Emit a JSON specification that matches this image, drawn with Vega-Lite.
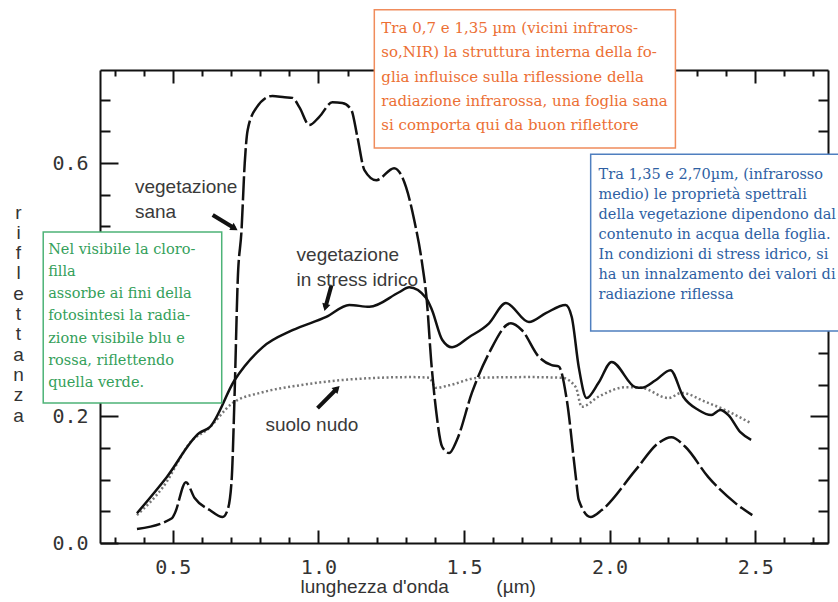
{
  "$schema": "https://vega.github.io/schema/vega-lite/v6.json",
  "width": 728,
  "height": 473,
  "autosize": {"type": "none"},
  "padding": {"left": 100, "top": 70, "right": 10, "bottom": 59},
  "background": "white",
  "config": {
    "view": {"stroke": null},
    "axis": {"grid": false, "domainColor": "#111", "tickColor": "#111", "domainWidth": 2, "tickWidth": 2}
  },
  "resolve": {"axis": {"x": "independent", "y": "independent"}},
  "datasets": {
    "curves": [
      {"s": "sana", "wl": 0.377, "r": 0.022}, {"s": "sana", "wl": 0.497, "r": 0.039}, {"s": "sana", "wl": 0.507, "r": 0.047},
      {"s": "sana", "wl": 0.545, "r": 0.096}, {"s": "sana", "wl": 0.575, "r": 0.071}, {"s": "sana", "wl": 0.627, "r": 0.052},
      {"s": "sana", "wl": 0.671, "r": 0.041}, {"s": "sana", "wl": 0.688, "r": 0.052}, {"s": "sana", "wl": 0.702, "r": 0.099},
      {"s": "sana", "wl": 0.712, "r": 0.231}, {"s": "sana", "wl": 0.723, "r": 0.415}, {"s": "sana", "wl": 0.736, "r": 0.494},
      {"s": "sana", "wl": 0.747, "r": 0.600}, {"s": "sana", "wl": 0.757, "r": 0.652}, {"s": "sana", "wl": 0.788, "r": 0.688},
      {"s": "sana", "wl": 0.842, "r": 0.706}, {"s": "sana", "wl": 0.884, "r": 0.704}, {"s": "sana", "wl": 0.911, "r": 0.703},
      {"s": "sana", "wl": 0.935, "r": 0.688}, {"s": "sana", "wl": 0.969, "r": 0.660}, {"s": "sana", "wl": 1.003, "r": 0.673},
      {"s": "sana", "wl": 1.048, "r": 0.696}, {"s": "sana", "wl": 1.082, "r": 0.695}, {"s": "sana", "wl": 1.113, "r": 0.684},
      {"s": "sana", "wl": 1.134, "r": 0.641}, {"s": "sana", "wl": 1.158, "r": 0.589}, {"s": "sana", "wl": 1.199, "r": 0.573},
      {"s": "sana", "wl": 1.260, "r": 0.592}, {"s": "sana", "wl": 1.301, "r": 0.562}, {"s": "sana", "wl": 1.329, "r": 0.510},
      {"s": "sana", "wl": 1.356, "r": 0.442}, {"s": "sana", "wl": 1.373, "r": 0.379}, {"s": "sana", "wl": 1.387, "r": 0.289},
      {"s": "sana", "wl": 1.404, "r": 0.210}, {"s": "sana", "wl": 1.425, "r": 0.152}, {"s": "sana", "wl": 1.449, "r": 0.142},
      {"s": "sana", "wl": 1.476, "r": 0.163}, {"s": "sana", "wl": 1.527, "r": 0.237}, {"s": "sana", "wl": 1.586, "r": 0.300},
      {"s": "sana", "wl": 1.661, "r": 0.347}, {"s": "sana", "wl": 1.699, "r": 0.336}, {"s": "sana", "wl": 1.757, "r": 0.294},
      {"s": "sana", "wl": 1.801, "r": 0.281}, {"s": "sana", "wl": 1.825, "r": 0.279}, {"s": "sana", "wl": 1.853, "r": 0.226},
      {"s": "sana", "wl": 1.884, "r": 0.104}, {"s": "sana", "wl": 1.894, "r": 0.068}, {"s": "sana", "wl": 1.935, "r": 0.041},
      {"s": "sana", "wl": 1.973, "r": 0.052}, {"s": "sana", "wl": 2.089, "r": 0.115}, {"s": "sana", "wl": 2.168, "r": 0.158},
      {"s": "sana", "wl": 2.212, "r": 0.167}, {"s": "sana", "wl": 2.260, "r": 0.152}, {"s": "sana", "wl": 2.339, "r": 0.104},
      {"s": "sana", "wl": 2.432, "r": 0.063}, {"s": "sana", "wl": 2.490, "r": 0.044},

      {"s": "stress", "wl": 0.377, "r": 0.047}, {"s": "stress", "wl": 0.479, "r": 0.104}, {"s": "stress", "wl": 0.592, "r": 0.174},
      {"s": "stress", "wl": 0.627, "r": 0.183}, {"s": "stress", "wl": 0.712, "r": 0.257}, {"s": "stress", "wl": 0.808, "r": 0.309},
      {"s": "stress", "wl": 0.911, "r": 0.336}, {"s": "stress", "wl": 1.027, "r": 0.357}, {"s": "stress", "wl": 1.106, "r": 0.376},
      {"s": "stress", "wl": 1.175, "r": 0.373}, {"s": "stress", "wl": 1.277, "r": 0.396}, {"s": "stress", "wl": 1.312, "r": 0.404},
      {"s": "stress", "wl": 1.370, "r": 0.387}, {"s": "stress", "wl": 1.390, "r": 0.368}, {"s": "stress", "wl": 1.425, "r": 0.321},
      {"s": "stress", "wl": 1.459, "r": 0.309}, {"s": "stress", "wl": 1.517, "r": 0.325}, {"s": "stress", "wl": 1.586, "r": 0.347},
      {"s": "stress", "wl": 1.644, "r": 0.379}, {"s": "stress", "wl": 1.723, "r": 0.349}, {"s": "stress", "wl": 1.781, "r": 0.363},
      {"s": "stress", "wl": 1.849, "r": 0.376}, {"s": "stress", "wl": 1.870, "r": 0.357}, {"s": "stress", "wl": 1.894, "r": 0.278},
      {"s": "stress", "wl": 1.921, "r": 0.229}, {"s": "stress", "wl": 1.962, "r": 0.253}, {"s": "stress", "wl": 2.007, "r": 0.286},
      {"s": "stress", "wl": 2.089, "r": 0.246}, {"s": "stress", "wl": 2.110, "r": 0.245}, {"s": "stress", "wl": 2.158, "r": 0.257},
      {"s": "stress", "wl": 2.209, "r": 0.273}, {"s": "stress", "wl": 2.253, "r": 0.231}, {"s": "stress", "wl": 2.305, "r": 0.210},
      {"s": "stress", "wl": 2.349, "r": 0.202}, {"s": "stress", "wl": 2.380, "r": 0.210}, {"s": "stress", "wl": 2.408, "r": 0.202},
      {"s": "stress", "wl": 2.449, "r": 0.175}, {"s": "stress", "wl": 2.486, "r": 0.163},

      {"s": "suolo", "wl": 0.377, "r": 0.044}, {"s": "suolo", "wl": 0.466, "r": 0.088}, {"s": "suolo", "wl": 0.568, "r": 0.163},
      {"s": "suolo", "wl": 0.616, "r": 0.178}, {"s": "suolo", "wl": 0.705, "r": 0.221}, {"s": "suolo", "wl": 0.808, "r": 0.238},
      {"s": "suolo", "wl": 0.935, "r": 0.249}, {"s": "suolo", "wl": 1.072, "r": 0.257}, {"s": "suolo", "wl": 1.322, "r": 0.262},
      {"s": "suolo", "wl": 1.380, "r": 0.261}, {"s": "suolo", "wl": 1.404, "r": 0.245}, {"s": "suolo", "wl": 1.449, "r": 0.249},
      {"s": "suolo", "wl": 1.551, "r": 0.261}, {"s": "suolo", "wl": 1.723, "r": 0.262}, {"s": "suolo", "wl": 1.836, "r": 0.261},
      {"s": "suolo", "wl": 1.884, "r": 0.246}, {"s": "suolo", "wl": 1.904, "r": 0.215}, {"s": "suolo", "wl": 1.962, "r": 0.231},
      {"s": "suolo", "wl": 2.055, "r": 0.246}, {"s": "suolo", "wl": 2.110, "r": 0.245}, {"s": "suolo", "wl": 2.202, "r": 0.229},
      {"s": "suolo", "wl": 2.247, "r": 0.237}, {"s": "suolo", "wl": 2.329, "r": 0.223}, {"s": "suolo", "wl": 2.397, "r": 0.210},
      {"s": "suolo", "wl": 2.486, "r": 0.189}
    ],
    "boxes": [
      {"b": "green", "x1": 0.055, "x2": 0.668, "y1": 0.491, "y2": 0.221},
      {"b": "orange", "x1": 1.192, "x2": 2.226, "y1": 0.842, "y2": 0.624},
      {"b": "blue", "x1": 1.935, "x2": 3.2, "y1": 0.614, "y2": 0.335}
    ],
    "notes": [
      {"b": "green", "x": 0.072, "y": 0.463, "text": "Nel visibile la cloro-\nfilla\nassorbe ai fini della\nfotosintesi la radia-\nzione visibile blu e\nrossa, riflettendo\nquella verde."},
      {"b": "orange", "x": 1.216, "y": 0.813, "text": "Tra 0,7 e 1,35 µm (vicini infraros-\nso,NIR) la struttura interna della fo-\nglia influisce sulla riflessione della\nradiazione infrarossa, una foglia sana\nsi comporta qui da buon riflettore"},
      {"b": "blue", "x": 1.962, "y": 0.581, "text": "Tra 1,35 e 2,70µm, (infrarosso\nmedio) le proprietà spettrali\ndella vegetazione dipendono dal\ncontenuto in acqua della foglia.\nIn condizioni di stress idrico, si\nha un innalzamento dei valori di\nradiazione riflessa"}
    ],
    "labels": [
      {"x": 0.370, "y": 0.562, "text": "vegetazione\nsana"},
      {"x": 0.925, "y": 0.455, "text": "vegetazione\nin stress idrico"},
      {"x": 0.818, "y": 0.186, "text": "suolo nudo"}
    ],
    "arrows": [
      {"x": 0.637, "y": 0.518, "x2": 0.712, "y2": 0.497, "angle": 122},
      {"x": 1.045, "y": 0.407, "x2": 1.024, "y2": 0.372, "angle": 195},
      {"x": 0.997, "y": 0.213, "x2": 1.064, "y2": 0.244, "angle": 45}
    ]
  },
  "layer": [
    {
      "data": {"name": "curves"},
      "mark": {"type": "point", "opacity": 0},
      "encoding": {
        "x": {"field": "wl", "type": "quantitative", "scale": {"domain": [0.25, 2.75], "nice": false, "zero": false},
          "axis": {"orient": "bottom", "values": [0.5, 1, 1.5, 2, 2.5], "format": ".1f", "tickSize": -13, "labelPadding": 27,
            "labelFont": "DejaVu Sans Mono", "labelFontSize": 20, "labelColor": "#333", "labelBaseline": "top",
            "title": "lunghezza d'onda\u00a0\u00a0\u00a0\u00a0\u00a0\u00a0\u00a0\u00a0\u00a0(µm)", "titleFont": "Liberation Sans", "titleFontSize": 19,
            "titleFontWeight": "normal", "titleColor": "#333", "titleAlign": "left", "titleX": 200, "titleY": 49, "titleBaseline": "alphabetic"}},
        "y": {"field": "r", "type": "quantitative", "scale": {"domain": [0, 0.747], "nice": false, "zero": false},
          "axis": {"orient": "left", "values": [0, 0.2, 0.4, 0.6], "format": ".1f", "tickSize": -18, "labelPadding": 30,
            "labelFont": "DejaVu Sans Mono", "labelFontSize": 20, "labelColor": "#333",
            "title": ["r", "i", "f", "l", "e", "t", "t", "a", "n", "z", "a"], "titleAngle": 0, "titleAlign": "center",
            "titleBaseline": "alphabetic", "titleX": -82, "titleY": 148, "titleLineHeight": 20.3,
            "titleFont": "Liberation Sans", "titleFontSize": 19, "titleFontWeight": "normal", "titleColor": "#333"}}
      }
    },
    {
      "data": {"name": "curves"},
      "mark": {"type": "point", "opacity": 0},
      "encoding": {
        "x": {"field": "wl", "type": "quantitative", "scale": {"domain": [0.25, 2.75], "nice": false, "zero": false},
          "axis": {"orient": "bottom", "values": [0.3, 0.4, 0.6, 0.7, 0.8, 0.9, 1.1, 1.2, 1.3, 1.4, 1.6, 1.7, 1.8, 1.9, 2.1, 2.2, 2.3, 2.4, 2.6, 2.7],
            "tickSize": -6, "labels": false, "domain": false, "title": null}},
        "y": {"field": "r", "type": "quantitative", "scale": {"domain": [0, 0.747], "nice": false, "zero": false},
          "axis": {"orient": "left", "values": [0.05, 0.1, 0.15, 0.25, 0.3, 0.35, 0.45, 0.5, 0.55, 0.65, 0.7],
            "tickSize": -10, "labels": false, "domain": false, "title": null}}
      }
    },
    {
      "data": {"name": "curves"},
      "mark": {"type": "point", "opacity": 0},
      "encoding": {
        "x": {"field": "wl", "type": "quantitative", "scale": {"domain": [0.25, 2.75], "nice": false, "zero": false},
          "axis": {"orient": "top", "values": [0.5, 1, 1.5, 2, 2.5], "tickSize": -13, "labels": false, "title": null}},
        "y": {"field": "r", "type": "quantitative", "scale": {"domain": [0, 0.747], "nice": false, "zero": false},
          "axis": {"orient": "right", "values": [0, 0.2, 0.4, 0.6], "tickSize": -18, "labels": false, "title": null}}
      }
    },
    {
      "data": {"name": "curves"},
      "mark": {"type": "point", "opacity": 0},
      "encoding": {
        "x": {"field": "wl", "type": "quantitative", "scale": {"domain": [0.25, 2.75], "nice": false, "zero": false},
          "axis": {"orient": "top", "values": [0.3, 0.4, 0.6, 0.7, 0.8, 0.9, 1.1, 1.2, 1.3, 1.4, 1.6, 1.7, 1.8, 1.9, 2.1, 2.2, 2.3, 2.4, 2.6, 2.7],
            "tickSize": -6, "labels": false, "domain": false, "title": null}},
        "y": {"field": "r", "type": "quantitative", "scale": {"domain": [0, 0.747], "nice": false, "zero": false},
          "axis": {"orient": "right", "values": [0.05, 0.1, 0.15, 0.25, 0.3, 0.35, 0.45, 0.5, 0.55, 0.65, 0.7],
            "tickSize": -10, "labels": false, "domain": false, "title": null}}
      }
    },
    {
      "data": {"name": "curves"},
      "transform": [{"filter": "datum.s === 'suolo'"}],
      "mark": {"type": "line", "interpolate": "monotone", "color": "#777", "strokeWidth": 2.5, "strokeDash": [2, 2.5]},
      "encoding": {
        "x": {"field": "wl", "type": "quantitative", "scale": {"domain": [0.25, 2.75], "nice": false, "zero": false}, "axis": null},
        "y": {"field": "r", "type": "quantitative", "scale": {"domain": [0, 0.747], "nice": false, "zero": false}, "axis": null}
      }
    },
    {
      "data": {"name": "curves"},
      "transform": [{"filter": "datum.s === 'stress'"}],
      "mark": {"type": "line", "interpolate": "monotone", "color": "#111", "strokeWidth": 2.5},
      "encoding": {
        "x": {"field": "wl", "type": "quantitative", "scale": {"domain": [0.25, 2.75], "nice": false, "zero": false}, "axis": null},
        "y": {"field": "r", "type": "quantitative", "scale": {"domain": [0, 0.747], "nice": false, "zero": false}, "axis": null}
      }
    },
    {
      "data": {"name": "curves"},
      "transform": [{"filter": "datum.s === 'sana'"}],
      "mark": {"type": "line", "interpolate": "monotone", "color": "#111", "strokeWidth": 2.5, "strokeDash": [24, 4]},
      "encoding": {
        "x": {"field": "wl", "type": "quantitative", "scale": {"domain": [0.25, 2.75], "nice": false, "zero": false}, "axis": null},
        "y": {"field": "r", "type": "quantitative", "scale": {"domain": [0, 0.747], "nice": false, "zero": false}, "axis": null}
      }
    },
    {
      "data": {"name": "arrows"},
      "mark": {"type": "rule", "color": "#111", "strokeWidth": 4},
      "encoding": {
        "x": {"field": "x", "type": "quantitative", "scale": {"domain": [0.25, 2.75], "nice": false, "zero": false}, "axis": null},
        "y": {"field": "y", "type": "quantitative", "scale": {"domain": [0, 0.747], "nice": false, "zero": false}, "axis": null},
        "x2": {"field": "x2"},
        "y2": {"field": "y2"}
      }
    },
    {
      "data": {"name": "arrows"},
      "mark": {"type": "point", "shape": "triangle-up", "filled": true, "color": "#111", "opacity": 1, "size": 70},
      "encoding": {
        "x": {"field": "x2", "type": "quantitative", "scale": {"domain": [0.25, 2.75], "nice": false, "zero": false}, "axis": null},
        "y": {"field": "y2", "type": "quantitative", "scale": {"domain": [0, 0.747], "nice": false, "zero": false}, "axis": null},
        "angle": {"field": "angle", "type": "quantitative", "scale": null}
      }
    },
    {
      "data": {"name": "labels"},
      "mark": {"type": "text", "align": "left", "baseline": "middle", "lineBreak": "\n", "lineHeight": 25, "font": "Liberation Sans", "fontSize": 19, "color": "#3a3a3a"},
      "encoding": {
        "x": {"field": "x", "type": "quantitative", "scale": {"domain": [0.25, 2.75], "nice": false, "zero": false}, "axis": null},
        "y": {"field": "y", "type": "quantitative", "scale": {"domain": [0, 0.747], "nice": false, "zero": false}, "axis": null},
        "text": {"field": "text"}
      }
    },
    {
      "data": {"name": "boxes"},
      "mark": {"type": "rect", "fill": "white", "strokeWidth": 1.5},
      "encoding": {
        "x": {"field": "x1", "type": "quantitative", "scale": {"domain": [0.25, 2.75], "nice": false, "zero": false}, "axis": null},
        "x2": {"field": "x2"},
        "y": {"field": "y1", "type": "quantitative", "scale": {"domain": [0, 0.747], "nice": false, "zero": false}, "axis": null},
        "y2": {"field": "y2"},
        "stroke": {"field": "b", "type": "nominal", "scale": {"domain": ["green", "orange", "blue"], "range": ["#4db377", "#f08c5c", "#4f7fbf"]}, "legend": null}
      }
    },
    {
      "data": {"name": "notes"},
      "transform": [{"filter": "datum.b === 'green'"}],
      "mark": {"type": "text", "align": "left", "baseline": "middle", "lineBreak": "\n", "lineHeight": 22.2, "font": "DejaVu Serif", "fontSize": 14.5, "color": "#34a05a"},
      "encoding": {
        "x": {"field": "x", "type": "quantitative", "scale": {"domain": [0.25, 2.75], "nice": false, "zero": false}, "axis": null},
        "y": {"field": "y", "type": "quantitative", "scale": {"domain": [0, 0.747], "nice": false, "zero": false}, "axis": null},
        "text": {"field": "text"}
      }
    },
    {
      "data": {"name": "notes"},
      "transform": [{"filter": "datum.b === 'orange'"}],
      "mark": {"type": "text", "align": "left", "baseline": "middle", "lineBreak": "\n", "lineHeight": 24.2, "font": "DejaVu Serif", "fontSize": 15, "color": "#ec6f34"},
      "encoding": {
        "x": {"field": "x", "type": "quantitative", "scale": {"domain": [0.25, 2.75], "nice": false, "zero": false}, "axis": null},
        "y": {"field": "y", "type": "quantitative", "scale": {"domain": [0, 0.747], "nice": false, "zero": false}, "axis": null},
        "text": {"field": "text"}
      }
    },
    {
      "data": {"name": "notes"},
      "transform": [{"filter": "datum.b === 'blue'"}],
      "mark": {"type": "text", "align": "left", "baseline": "middle", "lineBreak": "\n", "lineHeight": 20, "font": "DejaVu Serif", "fontSize": 14.5, "color": "#2e5fa3"},
      "encoding": {
        "x": {"field": "x", "type": "quantitative", "scale": {"domain": [0.25, 2.75], "nice": false, "zero": false}, "axis": null},
        "y": {"field": "y", "type": "quantitative", "scale": {"domain": [0, 0.747], "nice": false, "zero": false}, "axis": null},
        "text": {"field": "text"}
      }
    }
  ]
}
